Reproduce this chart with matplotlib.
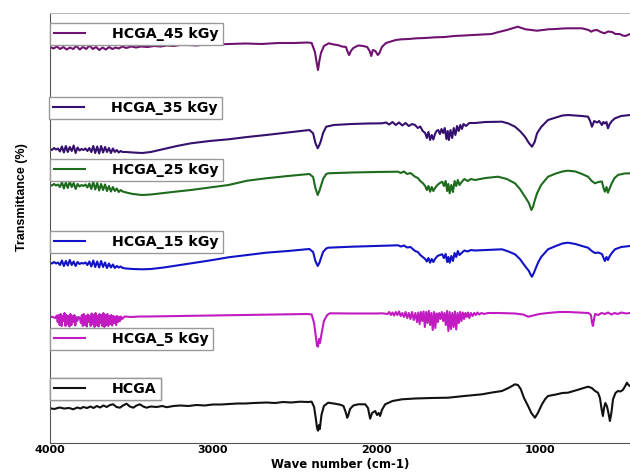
import matplotlib
matplotlib.use("Agg")
import matplotlib.pyplot as plt

# FTIR spectra, stacked (wavenumber cm-1, transmittance a.u. incl. offset)
labels = ["HCGA_45 kGy", "HCGA_35 kGy", "HCGA_25 kGy", "HCGA_15 kGy", "HCGA_5 kGy", "HCGA"]
colors = ["#70126f", "#35106e", "#1d6b1d", "#1212c8", "#c21bc2", "#111111"]

wn_45 = [3997, 3975, 3955, 3935, 3915, 3895, 3875, 3855, 3835, 3815, 3795, 3775, 3755, 3735, 3715,
         3695, 3675, 3655, 3635, 3615, 3595, 3575, 3555, 3530, 3500, 3470, 3440, 3400, 3360, 3320,
         3280, 3240, 3200, 3150, 3100, 3050, 3000, 2900, 2800, 2700, 2600, 2500, 2420, 2395, 2375,
         2362, 2356, 2348, 2338, 2320, 2290, 2260, 2236, 2210, 2185, 2172, 2165, 2155, 2140, 2110,
         2080, 2055, 2040, 2030, 2020, 2005, 1990, 1980, 1965, 1940, 1914, 1880, 1845, 1800, 1753,
         1700, 1638, 1580, 1523, 1460, 1408, 1350, 1293, 1250, 1200, 1160, 1132, 1110, 1085, 1050,
         1016, 980, 947, 900, 860, 832, 780, 740, 700, 683, 670, 648, 625, 602, 580,
         556, 535, 510, 490, 475, 460, 446]
t_45 = [396, 394.5, 396.5, 394, 396, 393.5, 395.5, 394, 397, 393.5, 396, 394, 397.5, 394, 396,
        393, 395.5, 393.5, 396, 394, 395.5, 394.5, 396.5, 395, 396.5, 395.5, 396.5, 396, 397, 396.5,
        397.5, 397, 398, 398, 397.5, 398.5, 398.5, 399, 399.5, 399, 400, 400, 400.5, 400, 391,
        378, 373, 382, 390, 397, 399.7, 398.5, 398, 396.5, 396, 390, 388, 392, 395, 397.5,
        397, 396, 392, 387, 393, 392, 388, 390, 396, 400, 401.3, 403, 403.7, 404, 404.7,
        405, 405.7, 406, 407, 407.5, 408, 408.5, 409, 411, 413, 415, 416.3, 415, 413.7, 413,
        412.3, 413, 413.7, 414, 414.5, 414.7, 414.7, 414.7, 413, 411.3, 412.5, 413, 411, 409.7, 411.5,
        411, 409, 409, 407.5, 407, 408, 409]

wn_35 = [3997, 3985, 3972, 3960, 3948, 3936, 3924, 3912, 3900, 3888, 3876, 3864, 3852, 3840, 3828,
         3816, 3804, 3792, 3780, 3768, 3756, 3744, 3732, 3720, 3708, 3696, 3684, 3672, 3660, 3648,
         3636, 3624, 3612, 3600, 3588, 3576, 3564, 3552, 3530, 3490, 3433, 3380, 3300, 3220, 3134,
         3020, 2904, 2790, 2674, 2540, 2409, 2386, 2372, 2358, 2348, 2340, 2325, 2306, 2260, 2150,
         2050, 1964, 1940, 1920, 1900, 1880, 1860, 1840, 1820, 1800, 1780, 1762, 1745, 1730, 1715,
         1700, 1690, 1680, 1670, 1660, 1650, 1640, 1630, 1620, 1610, 1600, 1590, 1580, 1570, 1562,
         1555, 1545, 1535, 1525, 1515, 1505, 1495, 1485, 1475, 1465, 1450, 1430, 1395, 1330, 1230,
         1190, 1150, 1120, 1089, 1065, 1046, 1030, 1015, 990, 948, 900, 860, 826, 780, 740,
         703, 690, 679, 665, 648, 635, 618, 609, 600, 590, 581, 570, 557, 538, 500,
         470, 446]
t_35 = [294, 293, 295, 293.5, 294.5, 291.5, 296.5, 290.5, 297, 291, 296, 292, 297.5, 290, 295.5,
        292.5, 294, 293, 294.5, 292, 295, 291, 297, 290, 296.5, 289.5, 297, 290.5, 296, 291,
        295, 290, 294.5, 291, 293, 290.5, 292, 291, 291, 290.5, 290, 291, 294, 297, 299.7,
        302, 303.7, 306, 308, 310.5, 313, 309.7, 300, 294.7, 298, 301.3, 310, 316.3, 318, 319,
        319.5, 319.7, 320.5, 318.5, 321, 318, 320.5, 317.5, 320, 317, 319, 318, 315, 316.5, 312,
        310, 305, 311, 303, 308, 303.5, 309, 312, 313, 309, 314, 310, 315, 304, 312,
        303, 313, 305, 315, 308, 317, 312, 318, 314, 319, 317, 320, 320, 321, 321.3,
        319.5, 316.3, 312, 306.3, 300, 296.3, 301, 309.7, 316, 323, 325.5, 327.5, 328, 327.5, 327,
        326.3, 322, 316.3, 322, 320.5, 322, 318, 321, 319.5, 321, 314.7, 319, 322, 324.7, 327,
        327.5, 328]

wn_25 = [3997, 3985, 3972, 3960, 3948, 3936, 3924, 3912, 3900, 3888, 3876, 3864, 3852, 3840, 3828,
         3816, 3804, 3792, 3780, 3768, 3756, 3744, 3732, 3720, 3708, 3696, 3684, 3672, 3660, 3648,
         3636, 3624, 3612, 3600, 3588, 3576, 3564, 3552, 3530, 3490, 3433, 3380, 3300, 3220, 3134,
         3020, 2904, 2790, 2674, 2540, 2409, 2386, 2372, 2358, 2348, 2340, 2325, 2306, 2294, 2150,
         2000, 1865, 1850, 1830, 1810, 1790, 1762, 1745, 1730, 1715, 1700, 1690, 1680, 1670, 1660,
         1650, 1640, 1625, 1610, 1596, 1585, 1575, 1565, 1558, 1550, 1540, 1530, 1520, 1510, 1500,
         1490, 1474, 1460, 1440, 1420, 1395, 1330, 1254, 1200, 1150, 1120, 1089, 1065, 1050, 1040,
         1030, 1015, 990, 948, 900, 860, 826, 780, 740, 703, 680, 661, 640, 618, 608,
         600, 590, 581, 570, 557, 540, 520, 480, 446]
t_25 = [258, 257.5, 259, 257.5, 258.5, 256, 261, 254.5, 260.5, 255, 261.5, 256, 260, 254, 259,
        256.5, 258, 257, 258.5, 255.5, 259.5, 254, 261, 253.5, 260, 252.5, 259, 253, 258.5, 252,
        257, 251.5, 256, 252, 254.5, 251, 253, 251.5, 250.5, 249, 248, 248.5, 250, 251.5, 253,
        255.5, 258, 262.3, 264.7, 267, 269, 266, 255, 248, 252, 256, 264, 269, 269.7, 270.5,
        271, 271.3, 270, 271.5, 269, 270, 266.3, 265, 262, 260, 257, 253, 257, 251.3, 256,
        252, 255, 258, 260, 261.3, 257, 262, 252, 259, 249.7, 258, 251, 262, 257, 263,
        258, 261.5, 264, 262, 264, 263, 265, 266.3, 264, 259.7, 254, 246.3, 240, 233, 236,
        242, 249.7, 258, 266.3, 269.5, 271.5, 272.3, 271.5, 269, 266.3, 262, 259.7, 261, 261.5, 255,
        251.3, 256, 250.3, 255, 260, 265, 268, 269.5, 269.7]

wn_15 = [3997, 3985, 3972, 3960, 3948, 3936, 3924, 3912, 3900, 3888, 3876, 3864, 3852, 3840, 3828,
         3816, 3804, 3792, 3780, 3768, 3756, 3744, 3732, 3720, 3708, 3696, 3684, 3672, 3660, 3648,
         3636, 3624, 3612, 3600, 3588, 3576, 3564, 3552, 3530, 3490, 3433, 3380, 3300, 3220, 3134,
         3020, 2904, 2790, 2674, 2540, 2409, 2386, 2372, 2358, 2348, 2340, 2325, 2306, 2294, 2150,
         2000, 1865, 1850, 1830, 1810, 1790, 1762, 1745, 1730, 1715, 1700, 1690, 1680, 1670, 1660,
         1650, 1640, 1625, 1610, 1596, 1585, 1575, 1565, 1558, 1550, 1540, 1530, 1520, 1510, 1500,
         1490, 1474, 1460, 1440, 1420, 1395, 1330, 1230, 1190, 1150, 1120, 1089, 1065, 1050, 1046,
         1035, 1020, 1009, 990, 948, 900, 860, 826, 780, 740, 703, 680, 661, 640, 618,
         608, 600, 590, 581, 570, 557, 538, 500, 470, 446]
t_15 = [180.3, 179.5, 181, 179.5, 180.5, 178, 182.5, 177, 182, 177.5, 183, 178, 181.5, 177, 181,
        179, 180, 179.5, 180.5, 178, 181.5, 176.5, 182.5, 176, 181.5, 175.5, 182, 176, 180.5, 175,
        179.5, 175.5, 178.5, 175, 177, 175.5, 176.5, 175, 174.5, 174, 173.7, 174, 175.5, 177.5, 179.7,
        182.5, 185.7, 188, 190.3, 192, 194, 191, 182, 177, 180, 184, 191, 194.5, 195.3, 196.3,
        197, 197.7, 196.5, 197.5, 195.5, 196, 192, 191, 188, 186, 184, 181.5, 185, 180.3, 184,
        181, 184, 187, 188, 188.7, 185, 189, 181, 186, 180.3, 187, 182, 190, 186, 192,
        188, 190.5, 192.5, 191.5, 193, 192.5, 193, 193.7, 191.5, 188.7, 184, 177, 172, 167, 166.3,
        170, 176, 180.3, 186, 193.7, 197, 199.5, 200.3, 199, 197, 195.3, 192, 190, 190.5, 189,
        185, 182, 186, 183, 187, 190, 193.7, 196, 196.5, 197]

wn_5 = [3997, 3980, 3965, 3955, 3950, 3944, 3938, 3932, 3926, 3920, 3914, 3908, 3902, 3896, 3890,
        3884, 3878, 3872, 3866, 3860, 3854, 3848, 3842, 3836, 3830, 3822, 3814, 3808, 3802, 3796,
        3790, 3784, 3778, 3772, 3766, 3760, 3754, 3748, 3742, 3736, 3730, 3724, 3718, 3712, 3706,
        3700, 3694, 3688, 3682, 3676, 3670, 3664, 3658, 3652, 3646, 3640, 3634, 3628, 3622, 3616,
        3610, 3604, 3598, 3592, 3586, 3580, 3574, 3568, 3562, 3556, 3540, 3500, 3450, 3400, 3200,
        3000, 2800, 2600, 2420, 2395, 2380, 2368, 2362, 2356, 2350, 2344, 2336, 2320, 2300, 2283,
        2150, 2000, 1964, 1930, 1920, 1910, 1900, 1890, 1880, 1870, 1860, 1850, 1840, 1830, 1820,
        1810, 1800, 1790, 1780, 1770, 1760, 1750, 1742, 1734, 1726, 1718, 1710, 1702, 1694, 1686,
        1678, 1670, 1662, 1654, 1646, 1638, 1630, 1622, 1614, 1606, 1598, 1590, 1582, 1574, 1566,
        1558, 1550, 1542, 1534, 1526, 1518, 1510, 1502, 1494, 1486, 1478, 1470, 1462, 1454, 1446,
        1438, 1430, 1420, 1410, 1400, 1390, 1380, 1370, 1355, 1340, 1315, 1250, 1150, 1100, 1070,
        1040, 1000, 948, 880, 826, 760, 700, 685, 678, 673, 668, 660, 640, 620, 600,
        580, 560, 540, 520, 500, 470, 446]
t_5 = [126.3, 126, 125, 127.5, 121, 128, 118, 129, 117, 127, 122, 130, 117, 128, 119,
       127, 116.5, 129, 118, 127, 121, 128, 117.5, 126, 122, 126, 125, 120, 128, 117,
       129, 118, 127, 116.5, 128.5, 121, 127, 117, 129.5, 119, 128, 116, 130, 118, 127,
       116.5, 129, 120, 128, 117, 130, 116, 128, 118, 129, 117, 127, 119, 128, 117.5,
       127, 120, 126.5, 118, 127, 121, 126, 122, 126.5, 124, 126.5, 126, 126.5, 126.5, 127,
       127.5, 128, 128.5, 129, 128.5, 120, 105, 97, 96.3, 104, 100, 108, 122, 128, 129.7,
       129.5, 129.5, 129.7, 129, 131, 128, 130.5, 127.5, 131, 128, 131.5, 127, 130, 126, 131,
       125, 130, 124, 131, 123, 130, 121, 130.5, 119, 131, 122, 131.5, 116, 131, 120,
       132, 118, 130, 113, 131, 115, 129.5, 121, 130, 124, 131, 122, 130, 118, 132,
       112, 131, 114, 130, 116, 131.5, 113.5, 130, 120, 131, 122, 130.5, 124, 130, 126,
       130.5, 125, 130, 127, 130, 128, 130.5, 128.5, 130, 129, 130, 130, 129.5, 128.5, 126.3,
       127.5, 129, 130, 131, 131, 130.5, 130, 128, 120, 117, 122, 129, 128, 130, 129,
       130.5, 128.5, 130, 129, 130.5, 129.5, 130]

wn_0 = [3997, 3970, 3940, 3910, 3880, 3854, 3830, 3810, 3793, 3770, 3750, 3730, 3711, 3690, 3670,
        3650, 3630, 3610, 3590, 3569, 3550, 3528, 3508, 3487, 3467, 3447, 3426, 3406, 3380, 3344,
        3310, 3283, 3240, 3200, 3150, 3100, 3050, 3000, 2950, 2900, 2850, 2800, 2750, 2700, 2672,
        2620, 2570, 2520, 2468, 2420, 2395, 2380, 2370, 2362, 2356, 2350, 2345, 2335, 2320, 2294,
        2260, 2220, 2200, 2185, 2177, 2170, 2160, 2140, 2110, 2067, 2050, 2037, 2025, 2006, 1995,
        1985, 1976, 1965, 1945, 1900, 1841, 1760, 1660, 1560, 1460, 1352, 1290, 1230, 1190, 1150,
        1132, 1115, 1095, 1070, 1050, 1028, 1010, 985, 965, 948, 900, 860, 826, 780, 740,
        703, 680, 660, 642, 630, 620, 612, 605, 597, 587, 578, 569, 560, 550, 535,
        520, 505, 490, 475, 465, 455, 446]
t_0 = [34.7, 34, 35.5, 34.5, 35, 33.7, 35.5, 34.5, 36, 35, 36.5, 35, 37, 35.5, 37.5,
       36, 38, 38.7, 36, 35.3, 37.5, 39.3, 36.5, 35.3, 37.5, 38.7, 36.5, 35.3, 36.5, 36,
       37, 35.8, 37, 37.5, 37, 38, 37.5, 38.5, 38.5, 39, 39.5, 39.5, 40, 40.3, 40.5,
       40, 41, 40.5, 41.3, 41, 41.3, 36, 25, 15, 12.3, 18, 14, 28, 37, 40.3,
       39.5, 38.3, 37, 30, 25.3, 28, 34, 37.5, 38.7, 38.7, 35, 24.3, 30, 32, 28,
       30, 27, 33, 38.7, 42, 43.7, 44.5, 45, 45.3, 47, 48.7, 50.5, 52, 55, 58.7,
       58, 54, 45, 37, 30, 25.3, 30, 38.7, 44, 47, 48.5, 50, 50.3, 52.5, 54.5,
       56.3, 55, 52, 50.3, 45, 34, 27, 35, 40, 36.7, 30, 22, 30, 43.7, 50,
       52, 51.5, 53, 57, 60.3, 58, 57]

series = [(wn_45, t_45), (wn_35, t_35), (wn_25, t_25), (wn_15, t_15), (wn_5, t_5), (wn_0, t_0)]
# upper-left corner of each legend box, in figure pixels
legend_corners = [(50, 23), (49, 97), (50, 159), (50, 231), (50, 328), (50, 378)]

W, H = 630, 472
fig = plt.figure(figsize=(W / 100, H / 100), dpi=100)
ax = fig.add_axes([49.5 / W, 1 - 443 / H, 1 - 49.5 / W, (443 - 13) / H])

lines = []
for (wn, t), c in zip(series, colors):
    ln, = ax.plot(wn, t, color=c, lw=1.5, solid_joinstyle="round")
    lines.append(ln)

ax.set_xlim(4000, 446)
ax.set_ylim(0, 430)
ax.set_xticks([4000, 3000, 2000, 1000])
ax.set_yticks([])
ax.tick_params(axis="x", length=0, pad=1.2)
for lab in ax.get_xticklabels():
    lab.set_fontweight("bold")
    lab.set_fontsize(8)
    lab.set_family("DejaVu Sans")

ax.spines["right"].set_visible(False)
ax.spines["top"].set_color("#bbbbbb")
ax.spines["left"].set_color("#555555")
ax.spines["bottom"].set_color("#555555")

ax.set_xlabel("Wave number (cm-1)", fontsize=8.5, fontweight="bold", family="DejaVu Sans")
ax.xaxis.set_label_coords(0.5, -0.036)
ax.set_ylabel("Transmittance (%)", fontsize=9, fontweight="semibold",
              family=["Liberation Sans Narrow", "Liberation Sans"])
ax.yaxis.set_label_coords(-0.037, 0.572)

for ln, lab, (px, py) in zip(lines, labels, legend_corners):
    leg = ax.legend(handles=[ln], labels=[lab], loc="upper left",
                    bbox_to_anchor=(px / W, 1 - py / H), bbox_transform=fig.transFigure,
                    borderaxespad=0, frameon=True, fancybox=False, framealpha=1,
                    edgecolor="#999999", handlelength=2.2, handletextpad=1.9,
                    borderpad=0.28,
                    prop={"weight": "bold", "size": 10.2, "family": "DejaVu Sans"})
    leg.get_frame().set_linewidth(1.0)
    ax.add_artist(leg)

fig.savefig("out.png", dpi=100)
